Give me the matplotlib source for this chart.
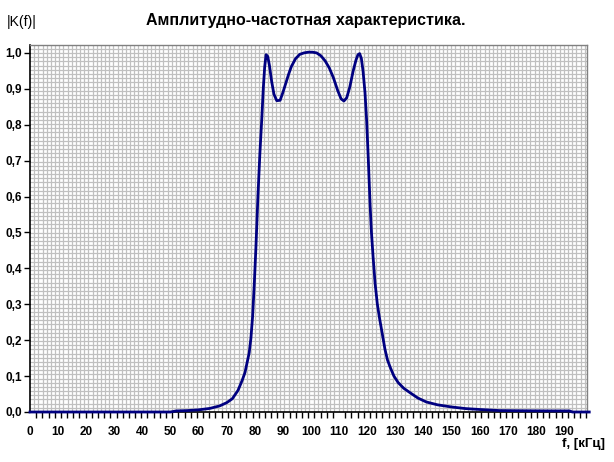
import numpy as np
import matplotlib.pyplot as plt
from matplotlib.ticker import FixedLocator, NullFormatter

plt.rcParams['font.family'] = ['Liberation Sans', 'DejaVu Sans']

# frequency, kHz
f = [0, 50, 52, 56, 60, 64, 67.5, 70, 72, 74, 75.5, 76.5, 78, 78.6, 79.2,
     79.8, 80.4, 81.1, 81.8, 82.5, 83, 83.5, 84, 84.6, 85.2, 86, 86.8, 87.8,
     89, 90, 91, 92, 93, 94.5, 96, 97.5, 99, 100.5, 102, 103.5, 105, 106.5,
     108, 109.5, 110.7, 111.7, 112.7, 113.8, 115, 116, 116.7, 117.3, 117.9,
     118.5, 119.2, 119.8, 120.4, 121.0, 121.5, 122.1, 122.8, 123.6, 124.4,
     125.3, 126.3, 127.2, 128.2, 129.5, 131, 133, 135, 138, 141, 145, 150, 155,
     160, 167, 175, 185, 192, 193, 199]
# |K(f)|
K = [0, 0, 0.003, 0.004, 0.006, 0.010, 0.017, 0.026, 0.037, 0.06, 0.088, 0.11,
     0.165, 0.205, 0.265, 0.355, 0.46, 0.6, 0.72, 0.82, 0.9, 0.96, 0.995, 0.99,
     0.965, 0.92, 0.885, 0.867, 0.868, 0.89, 0.915, 0.94, 0.962, 0.984, 0.996,
     1.0, 1.002, 1.002, 1.0, 0.992, 0.978, 0.958, 0.93, 0.895, 0.872, 0.866,
     0.875, 0.905, 0.95, 0.98, 0.995, 0.998, 0.985, 0.95, 0.89, 0.81, 0.7,
     0.58, 0.5, 0.43, 0.358, 0.3, 0.26, 0.22, 0.175, 0.145, 0.124, 0.1, 0.082,
     0.066, 0.055, 0.039, 0.028, 0.02, 0.014, 0.0095, 0.007, 0.004, 0.0035,
     0.003, 0.003, 0, 0]

xlabels = list(range(0, 200, 10))
ylabels = [round(0.1 * i, 1) for i in range(11)]

fig = plt.figure(figsize=(6.14, 4.62), dpi=100)
ax = fig.add_axes([30 / 614, 50 / 462, 557 / 614, 367 / 462])

xmax = 198.2
ymax = 1.022
ax.set_xlim(0, xmax)
ax.set_ylim(0, ymax)

# fine millimetre-like grid
gx = np.arange(0, xmax, 1.484)
gy = np.arange(0, ymax, 0.01162)
for v in gx[1:]:
    ax.axvline(v, color='#c0c0c0', lw=0.9, zorder=0)
for v in gy[1:]:
    ax.axhline(v, color='#c0c0c0', lw=0.9, zorder=0)

ax.plot(f, K, color='#000080', lw=2.0, zorder=3, clip_on=False)

ax.set_xticks(xlabels)
ax.set_xticklabels([str(v) for v in xlabels])
ax.xaxis.set_minor_locator(FixedLocator(np.arange(0, xmax + 0.1, 2.2)))
ax.xaxis.set_minor_formatter(NullFormatter())
ax.tick_params(axis='x', which='major', length=0, pad=10, labelsize=8.5)
ax.tick_params(axis='x', which='minor', length=4, width=1, direction='out', color='black')

ax.set_yticks(ylabels)
ax.set_yticklabels([f"{v:.1f}".replace('.', ',') for v in ylabels])
ax.tick_params(axis='y', length=4, width=1, direction='out', pad=2, labelsize=8.5)

for lab in ax.get_xticklabels() + ax.get_yticklabels():
    lab.set_fontweight('bold')

for s in ['left', 'bottom']:
    ax.spines[s].set_color('black')
    ax.spines[s].set_linewidth(1.2)
for s in ['top', 'right']:
    ax.spines[s].set_color('#808080')
    ax.spines[s].set_linewidth(1.0)

fig.text(306 / 614, 1 - 20 / 462, 'Амплитудно-частотная характеристика.',
         ha='center', va='center', fontsize=11.5, fontweight='bold')
fig.text(7 / 614, 1 - 22 / 462, '|K(f)|', ha='left', va='center', fontsize=10)
fig.text(605 / 614, 1 - 444 / 462, 'f, [кГц]', ha='right', va='center',
         fontsize=9.5, fontweight='bold')

fig.savefig('out.png', dpi=100)
